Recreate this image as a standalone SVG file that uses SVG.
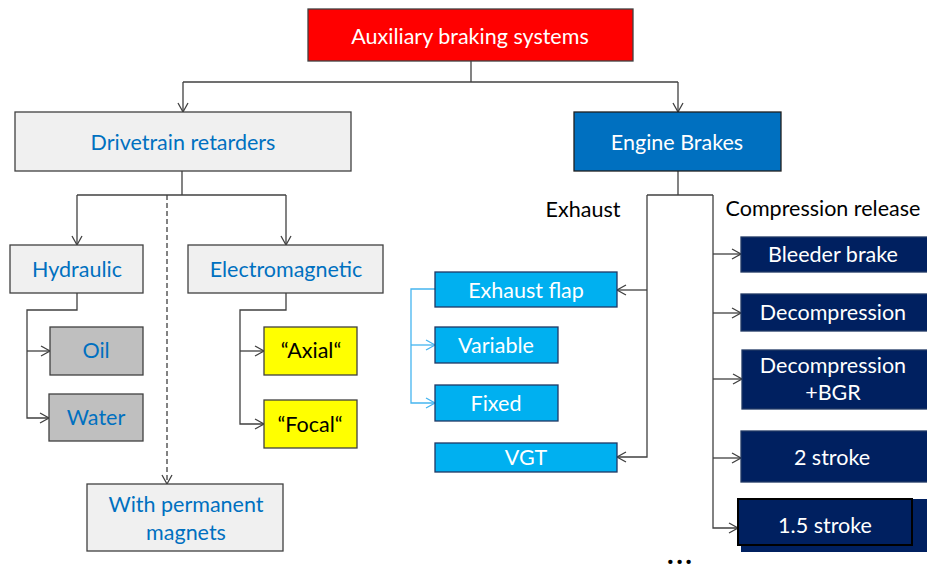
<svg xmlns="http://www.w3.org/2000/svg" width="927" height="570" viewBox="0 0 927 570">
<defs>
<style>
.t{font-family:Lato,"Liberation Sans",sans-serif;font-size:21.5px;text-anchor:middle;dominant-baseline:central}
.w{fill:#ffffff}.b{fill:#0070C0}.k{fill:#000000}
.grey{fill:#F0F0F0;stroke:#404040;stroke-width:1.3}
.dg{fill:#BFBFBF;stroke:#404040;stroke-width:1.3}
.yl{fill:#FFFF00;stroke:#404040;stroke-width:1.3}
.cy{fill:#00B0F0;stroke:#1F3864;stroke-width:1.3}
.nv{fill:#002060;stroke:#1F3864;stroke-width:1.3}
.ln{fill:none;stroke:#404040;stroke-width:1.3}
.lb{fill:none;stroke:#45B5F0;stroke-width:1.3}
</style>
<marker id="ar" markerUnits="userSpaceOnUse" markerWidth="12" markerHeight="12" viewBox="0 0 12 12" refX="10" refY="6" orient="auto">
<path d="M1,1 L10,6 L1,11" fill="none" stroke="#404040" stroke-width="1.3"/>
</marker>
<marker id="arb" markerUnits="userSpaceOnUse" markerWidth="12" markerHeight="12" viewBox="0 0 12 12" refX="10" refY="6" orient="auto">
<path d="M1,1 L10,6 L1,11" fill="none" stroke="#45B5F0" stroke-width="1.3"/>
</marker>
</defs>
<rect width="927" height="570" fill="#ffffff"/>
<g id="connectors">
<path class="ln" d="M471,61 V82"/>
<path class="ln" d="M183,82 H678"/>
<path class="ln" d="M183,82 V112" marker-end="url(#ar)"/>
<path class="ln" d="M678,82 V112" marker-end="url(#ar)"/>
<path class="ln" d="M182,171 V195"/>
<path class="ln" d="M77,195 H286"/>
<path class="ln" d="M77,195 V245" marker-end="url(#ar)"/>
<path class="ln" d="M286,195 V245" marker-end="url(#ar)"/>
<path class="ln" d="M167,195 V484" stroke-dasharray="5,3" marker-end="url(#ar)"/>
<path class="ln" d="M77,293 V310 H27 V418 H49" marker-end="url(#ar)"/>
<path class="ln" d="M27,351 H50" marker-end="url(#ar)"/>
<path class="ln" d="M286,293 V310 H240 V424 H264" marker-end="url(#ar)"/>
<path class="ln" d="M240,351 H264" marker-end="url(#ar)"/>
<path class="ln" d="M678,171 V195"/>
<path class="ln" d="M647,195 H713"/>
<path class="ln" d="M647,195 V457 H617" marker-end="url(#ar)"/>
<path class="ln" d="M647,290 H617" marker-end="url(#ar)"/>
<path class="ln" d="M713,195 V528 H738" marker-end="url(#ar)"/>
<path class="ln" d="M713,254 H741" marker-end="url(#ar)"/>
<path class="ln" d="M713,313 H741" marker-end="url(#ar)"/>
<path class="ln" d="M713,379 H742" marker-end="url(#ar)"/>
<path class="ln" d="M713,458 H741" marker-end="url(#ar)"/>
<path class="lb" d="M435,289 H411 V403 H435" marker-end="url(#arb)"/>
<path class="lb" d="M411,345 H435" marker-end="url(#arb)"/>
</g>
<g id="root"><rect x="308" y="9" width="325" height="52" fill="#FF0000" stroke="#404040" stroke-width="1.3"/><text class="t w" x="470" y="36">Auxiliary braking systems</text></g>
<g id="drivetrain"><rect class="grey" x="15" y="112" width="336" height="59"/><text class="t b" x="183" y="142">Drivetrain retarders</text></g>
<g id="engine"><rect x="574" y="112" width="207" height="59" fill="#0070C0" stroke="#1F1F1F" stroke-width="1.3"/><text class="t w" x="677" y="142">Engine Brakes</text></g>
<g id="hydraulic"><rect class="grey" x="10" y="245" width="133" height="48"/><text class="t b" x="77" y="269">Hydraulic</text></g>
<g id="electromagnetic"><rect class="grey" x="188" y="245" width="195" height="48"/><text class="t b" x="286" y="269">Electromagnetic</text></g>
<g id="oil"><rect class="dg" x="50" y="327" width="93" height="48"/><text class="t b" x="96" y="350">Oil</text></g>
<g id="water"><rect class="dg" x="49" y="394" width="94" height="47"/><text class="t b" x="96" y="417">Water</text></g>
<g id="axial"><rect class="yl" x="264" y="327" width="93" height="48"/><text class="t k" x="311" y="350">“Axial“</text></g>
<g id="focal"><rect class="yl" x="264" y="400" width="93" height="48"/><text class="t k" x="310" y="424">“Focal“</text></g>
<g id="permanent"><rect class="grey" x="87" y="484" width="196" height="67"/><text class="t b" x="186" y="504">With permanent</text><text class="t b" x="186" y="532">magnets</text></g>
<g id="exhaust-label"><text class="t k" x="583" y="209">Exhaust</text></g>
<g id="compression-label"><text class="t k" x="823" y="208">Compression release</text></g>
<g id="exhaust-flap"><rect class="cy" x="435" y="272" width="182" height="35"/><text class="t w" x="526" y="290">Exhaust flap</text></g>
<g id="variable"><rect class="cy" x="435" y="327" width="123" height="36"/><text class="t w" x="496" y="345">Variable</text></g>
<g id="fixed"><rect class="cy" x="435" y="385" width="123" height="36"/><text class="t w" x="496" y="403">Fixed</text></g>
<g id="vgt"><rect class="cy" x="435" y="443" width="182" height="29"/><text class="t w" x="526" y="457">VGT</text></g>
<g id="bleeder"><rect class="nv" x="741" y="237" width="190" height="35"/><text class="t w" x="833" y="254">Bleeder brake</text></g>
<g id="decompression"><rect class="nv" x="741" y="294" width="190" height="37"/><text class="t w" x="833" y="312">Decompression</text></g>
<g id="decompression-bgr"><rect class="nv" x="742" y="350" width="189" height="59"/><text class="t w" x="833" y="365">Decompression</text><text class="t w" x="833" y="392">+BGR</text></g>
<g id="two-stroke"><rect class="nv" x="741" y="431" width="190" height="51"/><text class="t w" x="832" y="457">2 stroke</text></g>
<g id="one-half-stroke"><rect fill="#002060" x="741" y="499" width="190" height="53"/><rect x="738" y="499" width="174" height="46" fill="#002060" stroke="#000000" stroke-width="2"/><text class="t w" x="825" y="525">1.5 stroke</text></g>
<g id="ellipsis"><text x="681" y="564" font-family="Lato,'Liberation Sans',sans-serif" font-size="26" font-weight="900" letter-spacing="3" text-anchor="middle" fill="#000000">...</text></g>
</svg>
